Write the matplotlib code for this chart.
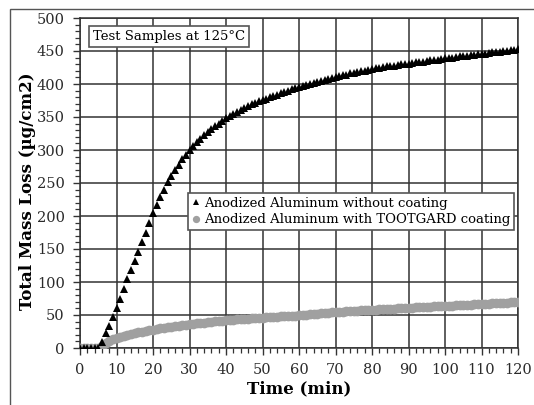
import matplotlib
matplotlib.use('Agg')
import matplotlib.pyplot as plt
from matplotlib.patches import Rectangle
from matplotlib.ticker import MultipleLocator

# time in minutes, one reading per minute
time_min = list(range(0, 121))

# Anodized aluminum without coating (black triangles)
uncoated = [
    0, 0, 0, 0, 0, 0, 9, 22, 33, 47,
    61, 75, 90, 104, 118, 132, 146, 161, 175, 190,
    204, 217, 229, 240, 251, 261, 270, 278, 286, 293,
    300, 306, 312, 317, 322, 327, 332, 336, 340, 344,
    348, 351, 354, 357, 360, 363, 366, 369, 371, 374,
    376, 378, 380, 382, 384, 386, 388, 390, 392, 394,
    395, 397, 399, 400, 402, 403, 405, 406, 408, 409,
    411, 412, 413, 414, 416, 417, 418, 419, 420, 421,
    423, 424, 425, 426, 427, 427, 428, 429, 430, 431,
    431, 432, 433, 434, 434, 435, 436, 437, 437, 438,
    439, 440, 440, 441, 442, 442, 443, 444, 444, 445,
    446, 446, 447, 448, 448, 449, 450, 450, 451, 452,
    453,
]

# Anodized aluminum with TOOTGARD coating (grey circles)
coated = [
    0, 0, 0, 0, 0, 0, 3, 7, 10, 13,
    15.5, 17, 18.5, 20, 21.5, 22.5, 23.5, 25, 26, 27,
    28, 29, 30, 30.5, 31.5, 32, 33, 34, 34.5, 35,
    36, 36.6, 37.2, 37.8, 38.4, 39, 39.6, 40.2, 40.8, 41.4,
    42, 42.4, 42.8, 43.2, 43.6, 44, 44.4, 44.8, 45.2, 45.6,
    46, 46.4, 46.7, 47.1, 47.4, 47.8, 48.1, 48.5, 48.8, 49.2,
    49.5, 50, 50.5, 51, 51.5, 52, 52.6, 53, 53.5, 54,
    54.6, 55, 55.3, 55.7, 56, 56.3, 56.7, 57, 57.3, 57.7,
    58, 58.3, 58.6, 58.9, 59.2, 59.5, 59.8, 60.1, 60.4, 60.7,
    61, 61.3, 61.5, 61.8, 62, 62.3, 62.6, 62.9, 63.1, 63.4,
    63.7, 64, 64.3, 64.6, 64.9, 65.2, 65.5, 65.8, 66.1, 66.4,
    66.7, 67, 67.3, 67.6, 67.9, 68.2, 68.5, 68.8, 69.1, 69.4,
    69.7,
]

labels = ["Anodized Aluminum without coating",
          "Anodized Aluminum with TOOTGARD coating"]

plt.rcParams['font.family'] = ['DejaVu Serif', 'DejaVu Sans']

fig = plt.figure(figsize=(5.34, 4.05), dpi=100)
ax = fig.add_axes([80/534, 57/405, 438/534, 330/405])

# outer frame (cut off on the right and at the bottom)
fig.add_artist(Rectangle((10/534, -0.2), 1.2, 1.2 - 9/405,
                         transform=fig.transFigure, fill=False,
                         edgecolor='#555555', lw=1.0))

gcol = '#333333'
ax.grid(True, which='major', color=gcol, lw=1.1, zorder=0)
ax.set_axisbelow(True)

ax.plot(time_min, coated, 'o', color='#a0a0a0', ms=7, mew=0,
        label=labels[1], zorder=3)
ax.plot(time_min, uncoated, '^', color='black', ms=5.8, mew=0,
        label=labels[0], zorder=4)

ax.set_xlim(0, 120)
ax.set_ylim(0, 500)
ax.xaxis.set_major_locator(MultipleLocator(10))
ax.xaxis.set_minor_locator(MultipleLocator(2))
ax.yaxis.set_major_locator(MultipleLocator(50))
ax.yaxis.set_minor_locator(MultipleLocator(10))
ax.tick_params(which='major', length=5, width=1, color=gcol,
               labelsize=10.5, labelcolor='#2a2a2a', pad=6)
ax.tick_params(which='minor', length=3.5, width=0.9, color=gcol)
for s in ax.spines.values():
    s.set_color(gcol)
    s.set_linewidth(1.1)

ax.set_xlabel("Time (min)", fontsize=12, fontweight='bold')
ax.set_ylabel("Total Mass Loss (µg/cm2)", fontsize=12, fontweight='bold')
ax.xaxis.set_label_coords(0.5, -0.097)
ax.yaxis.set_label_coords(-0.1, 0.475)

h, l = ax.get_legend_handles_labels()
leg = ax.legend(h[::-1], l[::-1], loc='upper left',
                bbox_to_anchor=(108/438, 155/330), fontsize=9.5,
                handlelength=0.6, handletextpad=0.3, borderpad=0.3,
                labelspacing=0.25, fancybox=False, framealpha=1,
                edgecolor='#555555', borderaxespad=0, markerscale=0.75)
leg.get_frame().set_linewidth(1.2)
leg.set_zorder(6)

ax.text(0.03, 0.965, "Test Samples at 125°C", transform=ax.transAxes,
        fontsize=9.5, va='top', ha='left', zorder=6,
        bbox=dict(boxstyle='square,pad=0.3', fc='white', ec='#555555', lw=1.2))

fig.savefig('out.png', dpi=100)
